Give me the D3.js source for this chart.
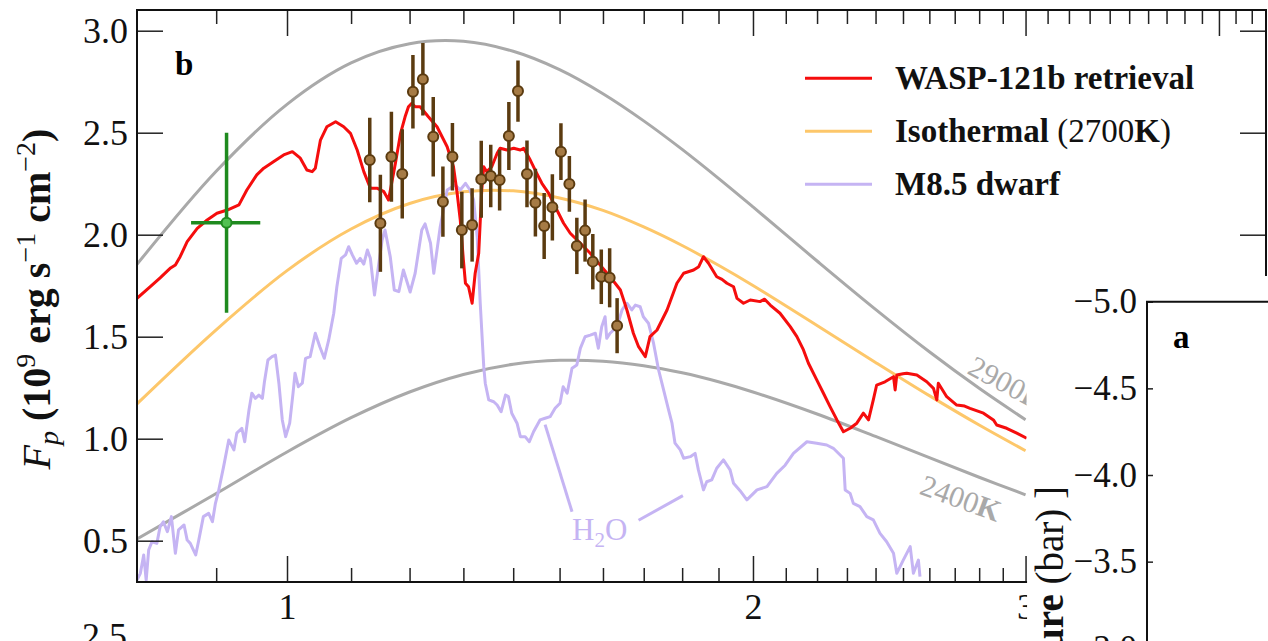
<!DOCTYPE html>
<html>
<head>
<meta charset="utf-8">
<script src="https://cdn.jsdelivr.net/npm/d3@7"></script>
<style>
  html, body { margin: 0; padding: 0; background: #fff; }
  svg { display: block; font-family: "Liberation Serif", "Times New Roman", serif; }
</style>
</head>
<body>
<svg id="chart" width="1268" height="641"></svg>
<script>
// ---------- tick values ----------
const waveMajorTicks = [1, 2, 3, 4];
const waveMinorTicks = [0.9, 1.1, 1.2, 1.3, 1.4, 1.5, 1.6, 1.7, 1.8, 1.9,
                        2.1, 2.2, 2.3, 2.4, 2.5, 2.6, 2.7, 2.8, 2.9,
                        3.1, 3.2, 3.3, 3.4, 3.5, 3.6, 3.7, 3.8, 3.9, 4.1, 4.2];
const fluxTicks = [0.5, 1.0, 1.5, 2.0, 2.5, 3.0];
const pressureTicks = [-5.0, -4.5, -4.0, -3.5, -3.0];

// ---------- blackbody reference curves (lambda F_lambda, 1e9 erg s^-1 cm^-2) ----------
const bbWave = [0.8, 0.9, 1.0, 1.1, 1.2, 1.3, 1.4, 1.5, 1.6, 1.7, 1.8, 1.9, 2.0, 2.2, 2.4, 2.6, 2.8, 3.0];
const bb2900 = [1.855, 2.311, 2.639, 2.842, 2.936, 2.948, 2.899, 2.809, 2.691, 2.558, 2.418, 2.276, 2.136, 1.871, 1.634, 1.426, 1.247, 1.093];
const bb2700 = [1.171, 1.534, 1.824, 2.028, 2.153, 2.210, 2.215, 2.180, 2.119, 2.038, 1.947, 1.850, 1.751, 1.555, 1.374, 1.211, 1.067, 0.941];
const bb2400 = [0.509, 0.731, 0.935, 1.103, 1.229, 1.315, 1.365, 1.384, 1.380, 1.358, 1.323, 1.279, 1.229, 1.121, 1.011, 0.907, 0.811, 0.725];

// ---------- WASP-121b retrieved spectrum ----------
const retrievalWave = [0.800, 0.816, 0.828, 0.841, 0.847, 0.853, 0.862, 0.875, 0.888, 0.901, 0.915, 0.931, 0.942, 0.956, 0.966, 0.980, 0.995, 1.008,
  1.020, 1.030, 1.038, 1.043, 1.051, 1.061, 1.075, 1.088, 1.099, 1.110, 1.121, 1.132, 1.143, 1.155, 1.163, 1.175, 1.184, 1.192, 1.198, 1.204,
  1.210, 1.219, 1.234, 1.250, 1.269, 1.281, 1.288, 1.294, 1.300, 1.304, 1.310, 1.317, 1.323, 1.330, 1.336, 1.340, 1.346, 1.356, 1.367, 1.373,
  1.387, 1.401, 1.415, 1.422, 1.436, 1.450, 1.461, 1.476, 1.494, 1.509, 1.524, 1.547, 1.570, 1.593, 1.617, 1.642, 1.658, 1.674, 1.687, 1.704,
  1.716, 1.734, 1.760, 1.786, 1.804, 1.831, 1.845, 1.858, 1.872, 1.895, 1.910, 1.924, 1.943, 1.953, 1.972, 1.992, 2.021, 2.035, 2.052, 2.082,
  2.114, 2.135, 2.156, 2.172, 2.199, 2.221, 2.243, 2.266, 2.288, 2.311, 2.334, 2.357, 2.375, 2.392, 2.404, 2.434, 2.465, 2.471, 2.477, 2.500,
  2.514, 2.552, 2.590, 2.616, 2.629, 2.635, 2.668, 2.708, 2.740, 2.762, 2.818, 2.860, 2.874, 2.917, 2.961, 3.005];
const retrievalFlux = [1.688, 1.745, 1.788, 1.837, 1.852, 1.892, 1.966, 2.031, 2.072, 2.105, 2.121, 2.146, 2.219, 2.293, 2.326, 2.358, 2.391, 2.407,
  2.375, 2.317, 2.309, 2.326, 2.464, 2.529, 2.554, 2.529, 2.497, 2.415, 2.309, 2.228, 2.228, 2.211, 2.170, 2.350, 2.497, 2.578, 2.627, 2.644,
  2.627, 2.627, 2.578, 2.529, 2.431, 2.333, 2.203, 2.072, 1.876, 1.762, 1.745, 1.664, 1.811, 1.909, 2.219, 2.333, 2.309, 2.333, 2.399, 2.424,
  2.415, 2.424, 2.415, 2.424, 2.366, 2.301, 2.252, 2.203, 2.121, 2.056, 2.007, 1.958, 1.909, 1.852, 1.794, 1.729, 1.631, 1.517, 1.451, 1.402,
  1.500, 1.533, 1.631, 1.762, 1.811, 1.827, 1.843, 1.892, 1.860, 1.794, 1.781, 1.762, 1.745, 1.688, 1.664, 1.680, 1.672, 1.684, 1.655, 1.615,
  1.549, 1.500, 1.435, 1.370, 1.288, 1.223, 1.157, 1.092, 1.034, 1.051, 1.076, 1.125, 1.092, 1.190, 1.263, 1.279, 1.304, 1.239, 1.312, 1.318,
  1.321, 1.312, 1.279, 1.247, 1.190, 1.272, 1.206, 1.165, 1.160, 1.149, 1.125, 1.092, 1.067, 1.051, 1.027, 1.002];

// ---------- M8.5 dwarf spectrum ----------
const dwarfWave = [0.800, 0.804, 0.808, 0.811, 0.814, 0.818, 0.824, 0.828, 0.832, 0.837, 0.842, 0.847, 0.851, 0.858, 0.862, 0.866, 0.873, 0.877,
  0.883, 0.890, 0.895, 0.899, 0.903, 0.910, 0.917, 0.924, 0.928, 0.935, 0.939, 0.945, 0.949, 0.954, 0.959, 0.964, 0.967, 0.972, 0.978, 0.983,
  0.988, 0.993, 0.998, 1.004, 1.009, 1.012, 1.017, 1.023, 1.028, 1.035, 1.043, 1.050, 1.057, 1.064, 1.072, 1.077, 1.084, 1.091, 1.096, 1.102,
  1.109, 1.115, 1.121, 1.127, 1.132, 1.139, 1.144, 1.152, 1.157, 1.166, 1.173, 1.181, 1.189, 1.201, 1.210, 1.222, 1.228, 1.238, 1.244, 1.256,
  1.269, 1.284, 1.294, 1.304, 1.313, 1.320, 1.327, 1.333, 1.340, 1.343, 1.350, 1.360, 1.367, 1.375, 1.384, 1.390, 1.397, 1.408, 1.415, 1.425,
  1.434, 1.443, 1.457, 1.468, 1.479, 1.490, 1.501, 1.508, 1.517, 1.528, 1.539, 1.547, 1.558, 1.570, 1.582, 1.589, 1.597, 1.605, 1.609, 1.617,
  1.634, 1.646, 1.658, 1.670, 1.679, 1.691, 1.699, 1.712, 1.725, 1.738, 1.751, 1.764, 1.773, 1.781, 1.795, 1.804, 1.822, 1.835, 1.844, 1.858,
  1.867, 1.881, 1.895, 1.914, 1.933, 1.943, 1.962, 1.982, 2.012, 2.042, 2.072, 2.098, 2.124, 2.167, 2.199, 2.232, 2.254, 2.288, 2.294, 2.311,
  2.322, 2.345, 2.369, 2.392, 2.416, 2.440, 2.465, 2.477, 2.501, 2.527, 2.539, 2.558, 2.564];
const dwarfFlux = [0.307, 0.340, 0.430, 0.307, 0.454, 0.495, 0.487, 0.569, 0.593, 0.544, 0.618, 0.438, 0.553, 0.577, 0.503, 0.487, 0.430, 0.503,
  0.618, 0.634, 0.593, 0.683, 0.740, 0.863, 0.994, 0.945, 1.027, 1.051, 0.985, 1.141, 1.223, 1.198, 1.214, 1.198, 1.279, 1.386, 1.402, 1.410,
  1.272, 1.092, 1.010, 1.076, 1.223, 1.321, 1.255, 1.272, 1.394, 1.402, 1.517, 1.451, 1.394, 1.484, 1.615, 1.745, 1.884, 1.901, 1.941, 1.901,
  1.860, 1.884, 1.856, 1.925, 1.884, 1.704, 1.811, 1.974, 2.023, 1.892, 1.729, 1.721, 1.827, 1.719, 1.811, 2.023, 2.053, 1.958, 1.811, 2.039,
  2.219, 2.244, 2.219, 2.252, 2.219, 2.170, 1.990, 1.664, 1.353, 1.272, 1.190, 1.181, 1.165, 1.132, 1.214, 1.206, 1.125, 1.076, 1.010, 1.010,
  0.985, 1.034, 1.092, 1.100, 1.108, 1.149, 1.174, 1.255, 1.223, 1.345, 1.361, 1.443, 1.500, 1.508, 1.517, 1.443, 1.549, 1.598, 1.492, 1.517,
  1.549, 1.631, 1.664, 1.631, 1.655, 1.647, 1.598, 1.566, 1.468, 1.337, 1.239, 1.141, 1.076, 0.978, 0.945, 0.904, 0.912, 0.928, 0.847, 0.749,
  0.789, 0.798, 0.855, 0.896, 0.847, 0.781, 0.745, 0.700, 0.749, 0.765, 0.830, 0.870, 0.928, 0.985, 0.978, 0.969, 0.953, 0.904, 0.749, 0.732,
  0.683, 0.667, 0.618, 0.602, 0.536, 0.495, 0.438, 0.340, 0.405, 0.471, 0.340, 0.405, 0.324];

// ---------- HST/WFC3 emission points ----------
const wfc3Wave = [1.131, 1.149, 1.168, 1.187, 1.206, 1.224, 1.243, 1.261, 1.279, 1.297, 1.317, 1.335, 1.354, 1.372,
                  1.391, 1.410, 1.429, 1.447, 1.466, 1.484, 1.503, 1.522, 1.539, 1.558, 1.576, 1.596, 1.616, 1.634];
const wfc3Flux = [2.366, 2.056, 2.382, 2.298, 2.701, 2.762, 2.480, 2.162, 2.382, 2.023, 2.048, 2.272, 2.288, 2.268,
                  2.484, 2.704, 2.298, 2.157, 2.043, 2.134, 2.407, 2.249, 1.945, 2.020, 1.868, 1.794, 1.789, 1.554];
const wfc3Err  = [0.207, 0.238, 0.221, 0.219, 0.180, 0.178, 0.195, 0.172, 0.165, 0.188, 0.180, 0.189, 0.153, 0.149,
                  0.167, 0.150, 0.164, 0.166, 0.162, 0.162, 0.139, 0.137, 0.138, 0.152, 0.136, 0.134, 0.145, 0.135];

// ---------- ground-based z' point ----------
const zWave = [0.914];
const zWaveErr = [0.047];
const zFlux = [2.059];
const zFluxErr = [0.441];

// ---------- layout ----------
const svg = d3.select("#chart");
const L = 137, R = 1266, T = 10, B = 582;
const serif = '"Liberation Serif", "Times New Roman", serif';

const x = d3.scaleLog().domain([0.8, 4.29]).range([L, R]);
const y = d3.scaleLinear().domain([0.2975, 3.1015]).range([B, T]);
const xEnd = x(3.0) + 1;

svg.append("rect").attr("width", 1268).attr("height", 641).attr("fill", "#fff");

svg.append("defs").append("clipPath").attr("id", "plotClip")
  .append("rect").attr("x", L).attr("y", T).attr("width", xEnd - L).attr("height", B - T);

const plot = svg.append("g").attr("clip-path", "url(#plotClip)");

const smooth = d3.line().x(d => x(d[0])).y(d => y(d[1])).curve(d3.curveCatmullRom.alpha(0.5));
const jagged = d3.line().x(d => x(d[0])).y(d => y(d[1]));

function pairs(xs, ys) { return xs.map((v, i) => [v, ys[i]]); }

// blackbody curves
plot.append("path").attr("d", smooth(pairs(bbWave, bb2900)))
  .attr("fill", "none").attr("stroke", "#a9a9a9").attr("stroke-width", 3);
plot.append("path").attr("d", smooth(pairs(bbWave, bb2400)))
  .attr("fill", "none").attr("stroke", "#a9a9a9").attr("stroke-width", 3);
plot.append("path").attr("d", smooth(pairs(bbWave, bb2700)))
  .attr("fill", "none").attr("stroke", "#fdc76a").attr("stroke-width", 3);

// dwarf spectrum
plot.append("path").attr("d", jagged(pairs(dwarfWave, dwarfFlux)))
  .attr("fill", "none").attr("stroke", "#c5b4f3").attr("stroke-width", 3)
  .attr("stroke-linejoin", "round");

// retrieval
plot.append("path").attr("d", jagged(pairs(retrievalWave, retrievalFlux)))
  .attr("fill", "none").attr("stroke", "#f50d0d").attr("stroke-width", 3)
  .attr("stroke-linejoin", "round");

// H2O annotation
const h2oColor = "#c5b4f3";
plot.append("line")
  .attr("x1", x(1.468)).attr("y1", y(1.069)).attr("x2", x(1.528)).attr("y2", y(0.642))
  .attr("stroke", h2oColor).attr("stroke-width", 3);
plot.append("line")
  .attr("x1", x(1.687)).attr("y1", y(0.600)).attr("x2", x(1.802)).attr("y2", y(0.721))
  .attr("stroke", h2oColor).attr("stroke-width", 3);
const h2o = plot.append("text").attr("x", x(1.528)).attr("y", y(0.503))
  .attr("fill", h2oColor).attr("font-size", 31).attr("font-family", serif);
h2o.append("tspan").text("H");
h2o.append("tspan").attr("dy", 7).attr("font-size", 21).text("2");
h2o.append("tspan").attr("dy", -7).text("O");

// temperature labels
function tempLabel(wl, fl, angle, t) {
  const g = plot.append("text")
    .attr("transform", `translate(${x(wl)},${y(fl)}) rotate(${angle})`)
    .attr("fill", "#a9a9a9").attr("font-size", 30).attr("font-family", serif);
  g.append("tspan").text(t);
  g.append("tspan").attr("font-weight", "bold").text("K");
}
tempLabel(2.746, 1.322, 28, "2900");
tempLabel(2.557, 0.731, 20, "2400");

// WFC3 points
const brown = "#5b3b10";
const pts = plot.append("g");
wfc3Wave.forEach((w, i) => {
  pts.append("line")
    .attr("x1", x(w)).attr("x2", x(w))
    .attr("y1", y(wfc3Flux[i] - wfc3Err[i])).attr("y2", y(wfc3Flux[i] + wfc3Err[i]))
    .attr("stroke", brown).attr("stroke-width", 3.5);
});
pts.selectAll("circle").data(wfc3Wave).enter().append("circle")
  .attr("cx", d => x(d)).attr("cy", (d, i) => y(wfc3Flux[i])).attr("r", 5)
  .attr("fill", "#a67b45").attr("stroke", brown).attr("stroke-width", 2);

// z' point
const green = "#1f8a1f";
zWave.forEach((w, i) => {
  plot.append("line").attr("x1", x(w)).attr("x2", x(w))
    .attr("y1", y(zFlux[i] - zFluxErr[i])).attr("y2", y(zFlux[i] + zFluxErr[i]))
    .attr("stroke", green).attr("stroke-width", 3.5);
  plot.append("line").attr("x1", x(w - zWaveErr[i])).attr("x2", x(w + zWaveErr[i]))
    .attr("y1", y(zFlux[i])).attr("y2", y(zFlux[i]))
    .attr("stroke", green).attr("stroke-width", 3.5);
  plot.append("circle").attr("cx", x(w)).attr("cy", y(zFlux[i])).attr("r", 5)
    .attr("fill", "#52c152").attr("stroke", green).attr("stroke-width", 2);
});

// ---------- axes ----------
function styleAxis(g) {
  g.select(".domain").remove();
  g.selectAll(".tick line").attr("stroke", "#222").attr("stroke-width", 1.5);
  g.selectAll(".tick text").attr("fill", "#111").attr("font-size", 36).attr("font-family", serif);
}
svg.append("g").attr("transform", `translate(0,${B})`)
  .call(d3.axisBottom(x).tickValues(waveMinorTicks).tickSize(-14).tickFormat(""))
  .call(styleAxis);
svg.append("g").attr("transform", `translate(0,${B})`)
  .call(d3.axisBottom(x).tickValues(waveMajorTicks).tickSize(-26).tickPadding(11).tickFormat(d3.format("d")))
  .call(styleAxis);
svg.append("g").attr("transform", `translate(0,${T})`)
  .call(d3.axisTop(x).tickValues(waveMinorTicks).tickSize(-14).tickFormat(""))
  .call(styleAxis);
svg.append("g").attr("transform", `translate(0,${T})`)
  .call(d3.axisTop(x).tickValues(waveMajorTicks).tickSize(-26).tickFormat(""))
  .call(styleAxis);
svg.append("g").attr("transform", `translate(${L},0)`)
  .call(d3.axisLeft(y).tickValues(fluxTicks).tickSize(-26).tickPadding(9).tickFormat(d3.format(".1f")))
  .call(styleAxis);
svg.append("g").attr("transform", `translate(${R},0)`)
  .call(d3.axisRight(y).tickValues(fluxTicks).tickSize(-26).tickFormat(""))
  .call(styleAxis);

// frame
svg.append("rect").attr("x", L).attr("y", T).attr("width", R - L).attr("height", B - T)
  .attr("fill", "none").attr("stroke", "#111").attr("stroke-width", 2);

// panel letter
svg.append("text").attr("x", 175).attr("y", 75).attr("font-size", 33)
  .attr("font-weight", "bold").attr("font-family", serif).text("b");

// y label
const yl = svg.append("text")
  .attr("transform", "translate(50,299) rotate(-90)")
  .attr("text-anchor", "middle").attr("font-size", 40).attr("font-family", serif).attr("fill", "#111");
yl.append("tspan").attr("font-style", "italic").text("F");
yl.append("tspan").attr("font-style", "italic").attr("font-size", 28).attr("dy", 8).text("p");
yl.append("tspan").attr("font-weight", "bold").attr("dy", -8).text(" (10");
yl.append("tspan").attr("font-size", 28).attr("dy", -15).text("9");
yl.append("tspan").attr("font-weight", "bold").attr("dy", 15).text(" erg s");
yl.append("tspan").attr("font-size", 28).attr("dy", -15).text("\u22121");
yl.append("tspan").attr("font-weight", "bold").attr("dy", 15).text(" cm");
yl.append("tspan").attr("font-size", 28).attr("dy", -15).text("\u22122");
yl.append("tspan").attr("font-weight", "bold").attr("dy", 15).text(")");

// legend
const legendItems = [
  { color: "#f50d0d", parts: [["WASP-121b retrieval", "bold"]] },
  { color: "#fdc76a", parts: [["Isothermal ", "bold"], ["(2700", "normal"], ["K", "bold"], [")", "normal"]] },
  { color: "#c5b4f3", parts: [["M8.5 dwarf", "bold"]] }
];
const legend = svg.append("g");
legendItems.forEach((it, i) => {
  const cy = 78.3 + i * 53;
  legend.append("line").attr("x1", 805).attr("x2", 872).attr("y1", cy).attr("y2", cy)
    .attr("stroke", it.color).attr("stroke-width", 3);
  const t = legend.append("text").attr("x", 895).attr("y", cy + 11)
    .attr("font-size", 33).attr("font-family", serif).attr("fill", "#111");
  it.parts.forEach(p => t.append("tspan").attr("font-weight", p[1]).text(p[0]));
});

// ---------- neighbouring panel (a) ----------
svg.append("rect").attr("x", xEnd + 0.5).attr("y", 276).attr("width", 1268 - xEnd).attr("height", 641 - 276)
  .attr("fill", "#fff");

const pa = svg.append("g");
const yP = d3.scaleLinear().domain([-5.0, -3.0]).range([301.7, 648.3]);
const PL = 1147;
pa.append("g").attr("transform", `translate(${PL},0)`)
  .call(d3.axisLeft(yP).tickValues(pressureTicks).tickSize(-6).tickPadding(10)
    .tickFormat(d => d3.format(".1f")(d).replace("-", "\u2212")))
  .call(g => {
    g.select(".domain").remove();
    g.selectAll(".tick line").attr("stroke", "#222").attr("stroke-width", 1.5);
    g.selectAll(".tick text").attr("fill", "#111").attr("font-size", 35).attr("font-family", serif);
  });
pa.append("path").attr("d", `M${PL},641 V301.7 H1268`)
  .attr("fill", "none").attr("stroke", "#111").attr("stroke-width", 2);
pa.append("text").attr("x", 1173).attr("y", 348).attr("font-size", 33)
  .attr("font-weight", "bold").attr("font-family", serif).text("a");
const pl = pa.append("text").attr("transform", "translate(1063,486) rotate(-90)")
  .attr("text-anchor", "end").attr("font-size", 39).attr("font-family", serif).attr("fill", "#111");
pl.append("tspan").text("log[ ");
pl.append("tspan").attr("font-weight", "bold").text("Pressure");
pl.append("tspan").text(" (bar) ]");

// tick label of the panel below, cut by the page edge
svg.append("text").attr("x", 127).attr("y", 648).attr("text-anchor", "end")
  .attr("font-size", 36).attr("font-family", serif).attr("fill", "#111").text("2.5");
</script>
</body>
</html>
